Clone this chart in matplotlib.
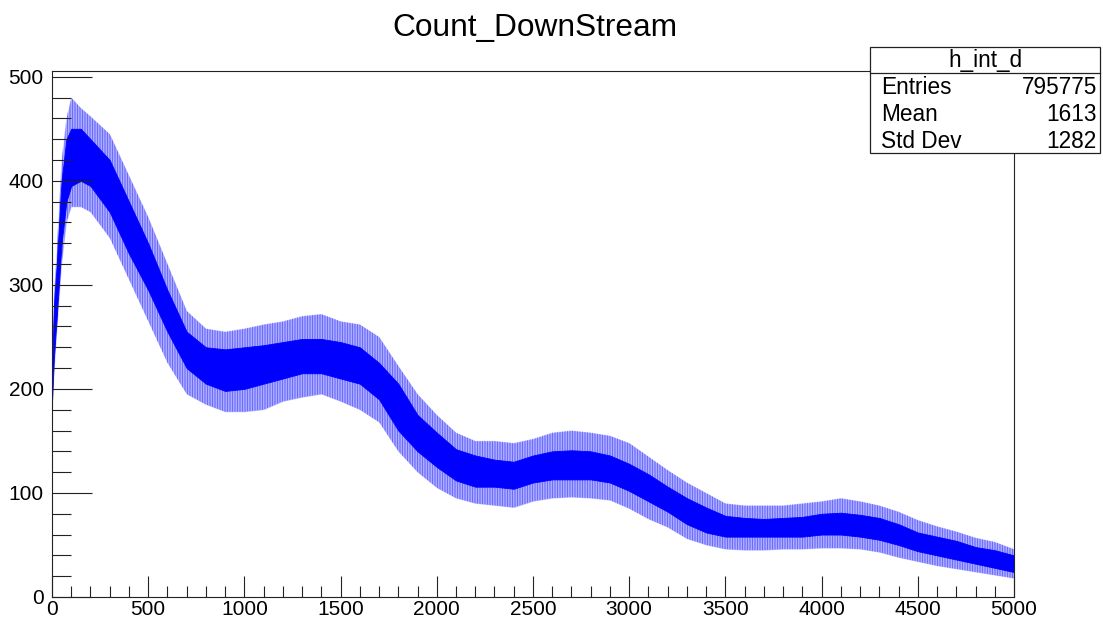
import numpy as np
from matplotlib import pyplot as plt
from matplotlib.patches import Rectangle
from matplotlib.ticker import MultipleLocator

plt.rcParams['font.family'] = ['Liberation Sans', 'DejaVu Sans']
plt.rcParams['hatch.linewidth'] = 0.6

# h_int_d : counts per channel, downstream detector
# channel positions where the band was read
chan = [0, 10, 25, 50, 75, 100, 150, 200, 300, 400, 500, 600, 700, 800, 900,
        1000, 1100, 1200, 1300, 1400, 1500, 1600, 1700, 1800, 1900,
        2000, 2100, 2200, 2300, 2400, 2500, 2600, 2700, 2800, 2900,
        3000, 3100, 3200, 3300, 3400, 3500, 3600, 3700, 3800, 3900,
        4000, 4100, 4200, 4300, 4400, 4500, 4600, 4700, 4800, 4900, 5000]

# bulk of the bin contents (low / high)
core_lo = [185, 230, 270, 340, 380, 395, 400, 395, 370, 330, 295, 255, 220, 205, 198,
           200, 205, 210, 215, 215, 210, 205, 190, 160, 140,
           125, 112, 106, 106, 104, 110, 113, 113, 113, 110,
           102, 92, 82, 70, 62, 58, 58, 58, 58, 58,
           60, 60, 58, 55, 50, 44, 40, 36, 32, 28, 24]
core_hi = [215, 280, 320, 400, 440, 450, 450, 440, 420, 380, 340, 295, 255, 240, 238,
           240, 242, 245, 248, 248, 245, 240, 225, 205, 175,
           158, 142, 136, 132, 130, 136, 140, 141, 140, 136,
           128, 118, 106, 95, 86, 78, 76, 75, 76, 77,
           80, 81, 79, 76, 70, 62, 58, 54, 48, 45, 40]

# extreme fluctuations
spike_lo = [180, 215, 255, 320, 360, 375, 375, 370, 345, 305, 265, 225, 195, 185, 178,
            178, 180, 188, 192, 195, 188, 180, 168, 140, 120,
            105, 95, 90, 88, 86, 92, 95, 96, 95, 93,
            85, 75, 67, 56, 50, 46, 45, 45, 46, 46,
            47, 47, 46, 43, 38, 34, 30, 27, 24, 21, 18]
spike_hi = [225, 290, 335, 420, 460, 480, 470, 462, 445, 405, 365, 320, 275, 258, 255,
            258, 262, 265, 270, 272, 265, 262, 250, 222, 195,
            175, 158, 150, 150, 148, 152, 158, 160, 158, 155,
            148, 135, 122, 110, 100, 90, 88, 88, 88, 90,
            92, 95, 92, 88, 82, 74, 68, 63, 57, 53, 46]

entries = 795775
mean = 1613
std_dev = 1282

fig = plt.figure(figsize=(11.03, 6.24), dpi=100)
ax = fig.add_axes([0.0471, 0.0433, 0.8722, 0.8429])

# fluctuation band: light fill + sparse vertical hatching, like bin spikes
ax.fill_between(chan, spike_lo, spike_hi, color='#0000ff', alpha=0.22, linewidth=0)
ax.fill_between(chan, spike_lo, spike_hi, facecolor='none', edgecolor='#0000ff',
                hatch='|' * 10, linewidth=0, alpha=0.55)
ax.fill_between(chan, core_lo, core_hi, color='#0000ff', linewidth=0.6)

ax.set_xlim(0, 5000)
ax.set_ylim(0, 505.5)
ax.xaxis.set_major_locator(MultipleLocator(500))
ax.xaxis.set_minor_locator(MultipleLocator(100))
ax.yaxis.set_major_locator(MultipleLocator(100))
ax.yaxis.set_minor_locator(MultipleLocator(20))
ax.tick_params(which='both', direction='in', top=False, right=False,
               labelsize=15, width=0.8, color='#222222')
ax.tick_params(axis='x', which='major', length=15, pad=2)
ax.tick_params(axis='x', which='minor', length=8)
ax.tick_params(axis='y', which='major', length=29, pad=6)
ax.tick_params(axis='y', which='minor', length=14)
for s in ax.spines.values():
    s.set_linewidth(0.8)
    s.set_color('#222222')

fig.text(0.4846, 0.955, 'Count_DownStream', ha='center', va='center', fontsize=22.8)

# stats box
box_l, box_r = 870 / 1103, 1100 / 1103
box_t, box_b = 1 - 47 / 624, 1 - 153 / 624
head_b = 1 - 73 / 624
fig.patches.append(Rectangle((box_l, box_b), box_r - box_l, box_t - box_b,
                             transform=fig.transFigure, facecolor='white',
                             edgecolor='#222222', linewidth=0.9, zorder=5))
fig.lines.append(plt.Line2D([box_l, box_r], [head_b, head_b], transform=fig.transFigure,
                            color='#222222', linewidth=0.9, zorder=6))
fig.text((box_l + box_r) / 2, 1 - 60 / 624, 'h_int_d', ha='center', va='center',
         fontsize=16.3, zorder=7)
rows = [('Entries', entries), ('Mean', mean), ('Std Dev', std_dev)]
for i, (name, val) in enumerate(rows):
    yy = 1 - (88 + i * 26.5) / 624
    fig.text(881 / 1103, yy, name, ha='left', va='center', fontsize=16.3, zorder=7)
    fig.text(1097 / 1103, yy, str(val), ha='right', va='center', fontsize=16.3, zorder=7)

plt.savefig('out.png', dpi=100)
